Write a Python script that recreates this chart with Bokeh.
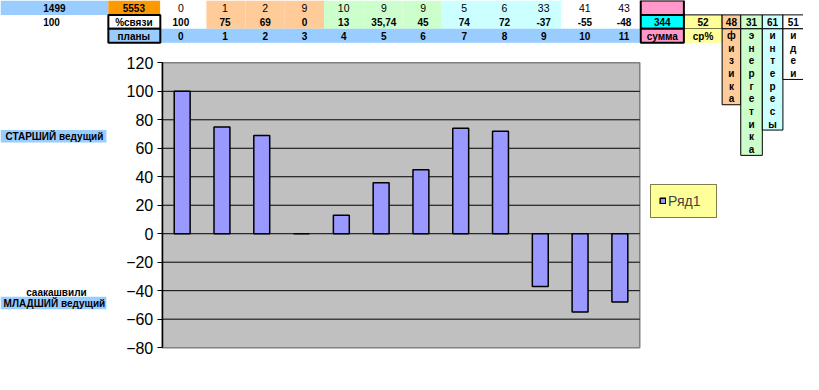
from bokeh.plotting import figure
from bokeh.models import Range1d, LinearAxis, FixedTicker, ColumnDataSource
from bokeh.core.properties import value
from bokeh.embed import file_html
from bokeh.resources import INLINE

# ---------------- data ----------------
plans = list(range(12))
link_pct = [100, 75, 69, 0, 13, 35.74, 45, 74, 72, -37, -55, -48]
link_pct_labels = ["100", "75", "69", "0", "13", "35,74", "45", "74", "72", "-37", "-55", "-48"]
row1_vals = [0, 1, 2, 9, 10, 9, 9, 5, 6, 33, 41, 43]
y_ticks = [-80, -60, -40, -20, 0, 20, 40, 60, 80, 100, 120]
series_name = "Ряд1"
head_top = ["1499", "5553"]
head_mid = ["100", "%связи"]
head_bot = "планы"
summary_labels = ["сумма", "ср%"]
summary_vals = ["344", "52"]
topic_names = ["физика", "энергетика", "интересы", "идеи"]
topic_vals = ["48", "31", "61", "51"]
senior_label = "СТАРШИЙ ведущий"
junior_note = "саакашвили"
junior_label = "МЛАДШИЙ ведущий"

# ---------------- layout (reference pixel space) ----------------
W, H = 803, 374
REF_W, REF_H = 819, 390
PL, PR, PT, PB = 165, 652, 65, 362          # plot area
Y0, Y1, Y2, Y3 = 0, 15, 29.5, 44            # table rows
CE = [163, 210, 250, 290, 330, 370, 410, 450, 491, 531, 572, 612, 652]
TX = [184, 229, 270, 310, 350, 391, 431, 473, 514, 554, 596, 636]
GF = ["#FFFFFF", "#FFCC99", "#FFCC99", "#FFCC99", "#CCFFCC", "#CCFFCC", "#CCFFCC",
      "#CCFFFF", "#CCFFFF", "#CCFFFF", "#FFFFFF", "#FFFFFF"]
TE = [736, 755, 777, 798, 819]
TF = ["#FFCC99", "#CCFFCC", "#CCFFFF", "#FFFFFF"]
LETTER_H = 13.2
FONT = value("Liberation Sans")

n = len(plans)
ymin, ymax = min(y_ticks), max(y_ticks)
kx = (PR - PL) / n
ky = (PB - PT) / (ymax - ymin)

p = figure(width=W, height=H, x_range=Range1d(0, REF_W), y_range=Range1d(REF_H, 0),
           output_backend="svg", toolbar_location=None, min_border=0,
           x_axis_type=None, y_axis_type=None)
p.outline_line_color = None
p.background_fill_color = "white"
p.border_fill_color = "white"
p.extra_x_ranges = {"cat": Range1d(-0.5 - PL / kx, n - 0.5 + (REF_W - PR) / kx)}
p.extra_y_ranges = {"val": Range1d(ymin - (REF_H - PB) / ky, ymax + PT / ky)}

# ---------------- table cells ----------------
cells = dict(l=[], r=[], t=[], b=[], fill=[], line=[], lw=[])
def cell(l, r, t, b, fill, line=None, lw=1):
    cells["l"].append(l); cells["r"].append(r); cells["t"].append(t); cells["b"].append(b)
    cells["fill"].append(fill); cells["line"].append(line); cells["lw"].append(lw)

cell(0, 110, Y0, Y1, "#99CCFF")
cell(110, 163, Y0, Y1, "#FF9900")
for i in range(n):
    cell(CE[i], CE[i + 1], Y0, Y2, GF[i])
cell(CE[0], CE[-1], Y2, Y3, "#99CCFF")
cell(110, 163, Y1, Y2, "#FFFFFF", "black", 2)
cell(110, 163, Y2, Y3, "#99CCFF", "black", 2)
cell(653, 697, Y0, Y1, "#FF99CC", "black", 2)
cell(697, 736, Y1, Y2, "#FFFF99", "black", 1)
cell(697, 736, Y2, Y3, "#FFFF99")
for j, name in enumerate(topic_names):
    cell(TE[j], TE[j + 1], Y1, Y2, TF[j], "black", 1)
    cell(TE[j], TE[j + 1], Y2, Y2 + LETTER_H * len(name), TF[j], "black", 1)
cell(653, 697, Y1, Y2, "#00FFFF", "black", 2)
cell(653, 697, Y2, Y3, "#FF99CC", "black", 2)
# label highlights
cell(0, 108, 135, 148, "#99CCFF")
cell(0, 108, 309, 322, "#99CCFF")

csrc = ColumnDataSource(cells)
p.quad(left="l", right="r", top="t", bottom="b", fill_color="fill", line_color="line",
       line_width="lw", source=csrc)

# ---------------- texts ----------------
def texts(xs, ys, ts, bold=True, size="10px", align="center"):
    p.text(x=xs, y=ys, text=ts, text_font=FONT, text_font_size=size,
           text_font_style="bold" if bold else "normal", text_align=align,
           text_baseline="middle", text_color="black")

ym1, ym2, ym3 = (Y0 + Y1) / 2, (Y1 + Y2) / 2 + 0.5, (Y2 + Y3) / 2 + 0.5
texts([55, 136], [ym1, ym1], head_top)
texts([52, 136], [ym2, ym2], head_mid)
texts([136], [ym3], [head_bot])
texts(TX, [ym1] * n, [str(v) for v in row1_vals], bold=False, size="10.5px")
texts(TX, [ym2] * n, link_pct_labels)
texts(TX, [ym3] * n, [str(v) for v in plans])
texts([675, 716.5], [ym2, ym2], summary_vals)
texts([675, 716.5], [ym3, ym3], summary_labels)
tc = [(TE[j] + TE[j + 1]) / 2 for j in range(len(topic_names))]
texts(tc, [ym2] * len(tc), topic_vals)
lx, ly, lt = [], [], []
for j, name in enumerate(topic_names):
    for k, ch in enumerate(name):
        lx.append(tc[j]); ly.append(Y2 + LETTER_H * (k + 0.5) + 0.5); lt.append(ch)
texts(lx, ly, lt)
texts([55], [142], [senior_label])
texts([57], [304], [junior_note])
texts([55], [316], [junior_label])

# ---------------- chart ----------------
p.quad(left=[-0.5], right=[n - 0.5], bottom=[ymin], top=[ymax],
       x_range_name="cat", y_range_name="val",
       fill_color="#C0C0C0", line_color="#808080", line_width=1.5)
inner = [t for t in y_ticks if ymin < t < ymax]
p.segment(x0=[-0.5] * len(inner), x1=[n - 0.5] * len(inner), y0=inner, y1=inner,
          x_range_name="cat", y_range_name="val", line_color="black", line_width=1)
bsrc = ColumnDataSource(dict(x=plans, top=link_pct))
p.vbar(x="x", top="top", bottom=0, width=0.4, source=bsrc,
       x_range_name="cat", y_range_name="val",
       fill_color="#9999FF", line_color="black", line_width=1.5, legend_label=series_name)

yaxis = LinearAxis(y_range_name="val", fixed_location=PL, bounds=(ymin, ymax),
                   ticker=FixedTicker(ticks=y_ticks))
yaxis.axis_line_color = "black"
yaxis.axis_line_width = 1.5
yaxis.major_tick_out = 5
yaxis.major_tick_in = 0
yaxis.major_tick_line_color = "black"
yaxis.minor_tick_out = 0
yaxis.minor_tick_in = 0
yaxis.major_label_text_font = "Liberation Sans"
yaxis.major_label_text_font_size = "16px"
yaxis.major_label_text_color = "black"
yaxis.major_label_standoff = 4
p.add_layout(yaxis, "left")

lg = p.legend[0]
lg.location = (663 * W / REF_W, H - 227 * H / REF_H)
lg.background_fill_color = "#FFFF99"
lg.background_fill_alpha = 1
lg.border_line_color = "black"
lg.border_line_width = 1
lg.padding = 8
lg.margin = 0
lg.spacing = 0
lg.glyph_width = 7
lg.glyph_height = 7
lg.label_height = 7
lg.label_width = 40
lg.label_standoff = 2
lg.label_text_font = "Liberation Sans"
lg.label_text_font_size = "14px"

open("out.html", "w").write(file_html(p, INLINE))
